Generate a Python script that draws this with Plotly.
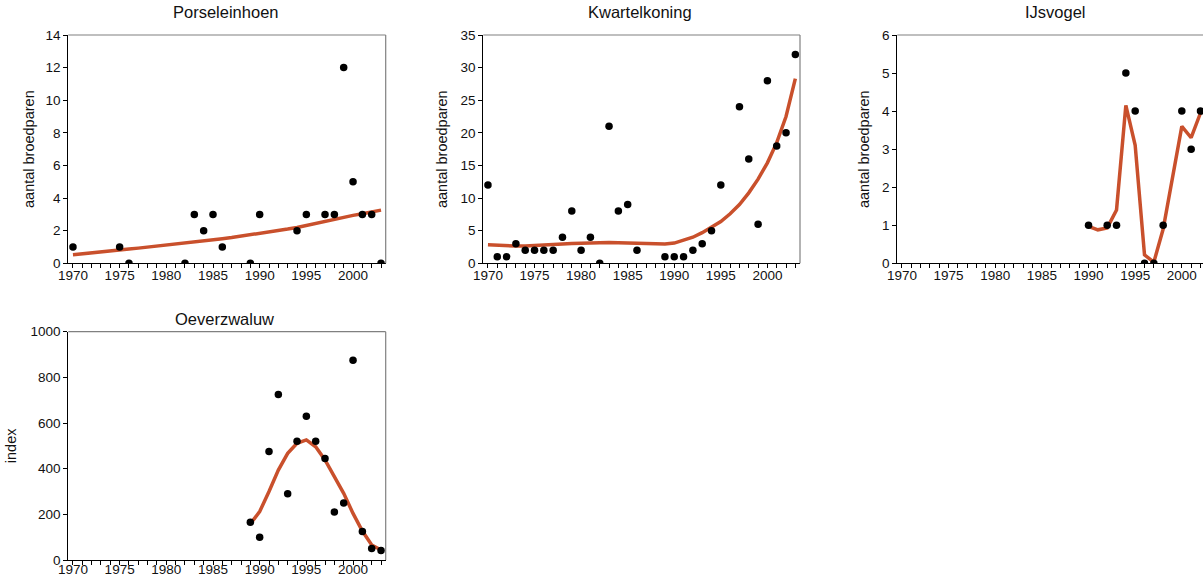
import plotly.graph_objects as go

W, H = 1203, 577

# ---------------- data ----------------
por_years = [1970, 1975, 1976, 1982, 1983, 1984, 1985, 1986, 1989, 1990, 1994, 1995, 1997, 1998, 1999, 2000, 2001, 2002, 2003]
por_values = [1, 1, 0, 0, 3, 2, 3, 1, 0, 3, 2, 3, 3, 3, 12, 5, 3, 3, 0]
por_trend_years = list(range(1970, 2004))
por_trend = [0.52, 0.57, 0.63, 0.69, 0.75, 0.81, 0.87, 0.93, 0.99, 1.05,
             1.11, 1.17, 1.24, 1.30, 1.37, 1.44, 1.51, 1.58, 1.66, 1.74,
             1.82, 1.91, 2.00, 2.10, 2.20, 2.33, 2.46, 2.60, 2.72, 2.84,
             2.94, 3.04, 3.15, 3.26]

kwa_years = [1970, 1971, 1972, 1973, 1974, 1975, 1976, 1977, 1978, 1979, 1980, 1981, 1982, 1983, 1984, 1985, 1986,
             1989, 1990, 1991, 1992, 1993, 1994, 1995, 1997, 1998, 1999, 2000, 2001, 2002, 2003]
kwa_values = [12, 1, 1, 3, 2, 2, 2, 2, 4, 8, 2, 4, 0, 21, 8, 9, 2,
              1, 1, 1, 2, 3, 5, 12, 24, 16, 6, 28, 18, 20, 32]
kwa_trend_years = list(range(1970, 2004))
kwa_trend = [2.85, 2.75, 2.70, 2.65, 2.65, 2.70, 2.75, 2.85, 2.95, 3.05,
             3.10, 3.15, 3.20, 3.20, 3.15, 3.10, 3.00, 2.95, 2.90, 2.95,
             3.10, 3.50, 4.00, 4.70, 5.50, 6.40, 7.60, 9.00, 10.8, 12.9,
             15.4, 18.5, 22.5, 28.3]

ijs_years = [1990, 1992, 1993, 1994, 1995, 1996, 1997, 1998, 2000, 2001, 2002]
ijs_values = [1, 1, 1, 5, 4, 0, 0, 1, 4, 3, 4]
ijs_trend_years = list(range(1990, 2003))
ijs_trend = [0.97, 0.88, 0.93, 1.40, 4.15, 3.10, 0.22, 0.03, 0.90, 2.20, 3.60, 3.30, 3.95]

oev_years = [1989, 1990, 1991, 1992, 1993, 1994, 1995, 1996, 1997, 1998, 1999, 2000, 2001, 2002, 2003]
oev_values = [165, 100, 475, 725, 290, 520, 630, 520, 445, 210, 250, 875, 125, 50, 42]
oev_trend_years = list(range(1989, 2004))
oev_trend = [158, 212, 300, 394, 467, 511, 526, 496, 438, 365, 292, 204, 127, 66, 44]

titles = ["Porseleinhoen", "Kwartelkoning", "IJsvogel", "Oeverzwaluw"]
ytitles = ["aantal broedparen", "aantal broedparen", "aantal broedparen", "index"]
year_ticks = [1970, 1975, 1980, 1985, 1990, 1995, 2000]

# ---------------- styling ----------------
LINE_COLOR = "#C9502C"
FONT = "Liberation Sans, Arial, sans-serif"
TXT = "#111111"

def px_x(p):
    return p / W

def px_y(p):
    return 1 - p / H

panels = [
    dict(x=(68.3, 385.7), y=(35, 263.3), xr=(1969.5, 2003.5), yr=(0, 14), dt=2, so=7, xso=-5,
         yrs=por_years, vals=por_values, ty=por_trend_years, tv=por_trend, right=True),
    dict(x=(483.3, 800.0), y=(35, 263.3), xr=(1969.5, 2003.5), yr=(0, 35), dt=5, so=9, xso=-5,
         yrs=kwa_years, vals=kwa_values, ty=kwa_trend_years, tv=kwa_trend, right=True),
    dict(x=(897.3, 1203.0), y=(35, 263.3), xr=(1969.5, 2002.27), yr=(0, 6), dt=1, so=8, xso=-5,
         yrs=ijs_years, vals=ijs_values, ty=ijs_trend_years, tv=ijs_trend, right=False),
    dict(x=(68.3, 385.7), y=(331.7, 560.0), xr=(1969.5, 2003.5), yr=(0, 1000), dt=200, so=10, xso=-7,
         yrs=oev_years, vals=oev_values, ty=oev_trend_years, tv=oev_trend, right=True),
]
title_pos = [(226, 12), (640, 12), (1055, 12), (224, 319)]

fig = go.Figure()
layout = dict(
    width=W, height=H,
    margin=dict(l=0, r=0, t=0, b=0, autoexpand=False),
    paper_bgcolor="white", plot_bgcolor="white",
    showlegend=False,
    font=dict(family=FONT, color=TXT),
)
shapes = []
annotations = []

for i, p in enumerate(panels):
    n = i + 1
    xa = "x" if n == 1 else f"x{n}"
    ya = "y" if n == 1 else f"y{n}"
    xkey = "xaxis" if n == 1 else f"xaxis{n}"
    ykey = "yaxis" if n == 1 else f"yaxis{n}"

    fig.add_trace(go.Scatter(x=p["ty"], y=p["tv"], mode="lines",
                             line=dict(color=LINE_COLOR, width=3.5),
                             xaxis=xa, yaxis=ya, hoverinfo="skip"))
    fig.add_trace(go.Scatter(x=p["yrs"], y=p["vals"], mode="markers",
                             marker=dict(color="black", size=7.5, symbol="circle"),
                             xaxis=xa, yaxis=ya))

    layout[xkey] = dict(
        domain=[px_x(p["x"][0]), min(1.0, px_x(p["x"][1]))],
        anchor=ya, range=list(p["xr"]), automargin=False,
        tickmode="array", tickvals=year_ticks,
        ticks="outside", ticklen=4, tickwidth=1, tickcolor="black",
        minor=dict(dtick=1, tick0=1970, ticks="outside", ticklen=4, tickwidth=1, tickcolor="black"),
        showline=True, linecolor="black", linewidth=1,
        showgrid=False, zeroline=False,
        ticklabelstandoff=p["xso"],
        tickfont=dict(size=13.5, color=TXT, family=FONT),
        fixedrange=True,
    )
    layout[ykey] = dict(
        domain=[px_y(p["y"][1]), px_y(p["y"][0])],
        anchor=xa, range=list(p["yr"]), dtick=p["dt"], tick0=0, automargin=False,
        ticks="outside", ticklen=4, tickwidth=1, tickcolor="black",
        showline=True, linecolor="black", linewidth=1,
        showgrid=False, zeroline=False,
        tickfont=dict(size=13.5, color=TXT, family=FONT),
        title=dict(text=ytitles[i], font=dict(size=14.5, color=TXT, family=FONT), standoff=p["so"]),
        fixedrange=True,
    )

    shapes.append(dict(type="line", xref=f"{xa} domain", yref=f"{ya} domain",
                       x0=0, x1=1, y0=1, y1=1, line=dict(color="#808080", width=1.2)))
    if p["right"]:
        shapes.append(dict(type="line", xref=f"{xa} domain", yref=f"{ya} domain",
                           x0=1, x1=1, y0=0, y1=1, line=dict(color="#808080", width=1.2)))

    tx, ty = title_pos[i]
    annotations.append(dict(text=titles[i], x=px_x(tx), y=px_y(ty), xref="paper", yref="paper",
                            xanchor="center", yanchor="middle", showarrow=False,
                            font=dict(size=16.5, color=TXT, family=FONT)))

layout["shapes"] = shapes
layout["annotations"] = annotations
fig.update_layout(**layout)

# remove the browser's default 8px body margin so the figure sits at the page corner
fig.write_html("out.html",
               config={"displayModeBar": False},
               post_script="document.body.style.margin='0px';document.body.style.overflow='hidden';")
